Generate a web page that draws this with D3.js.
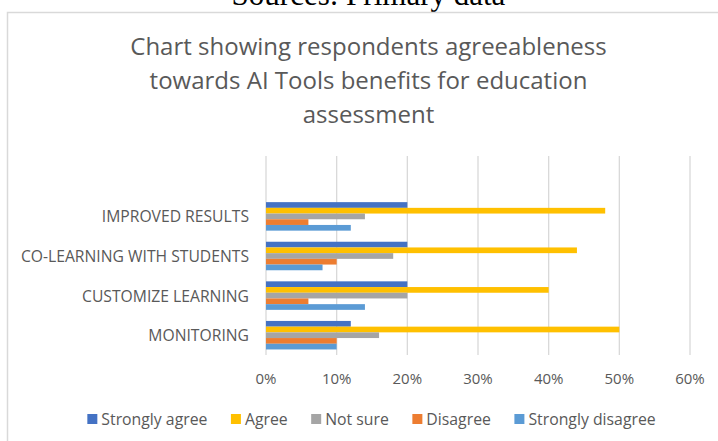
<!DOCTYPE html>
<html>
<head>
<meta charset="utf-8">
<script src="https://cdn.jsdelivr.net/npm/d3@7"></script>
<style>
  body { margin: 0; background: #fff; }
  svg text { font-family: "Open Sans", sans-serif; }
</style>
</head>
<body>
<div id="chart"></div>
<script>
var categories = ["IMPROVED RESULTS", "CO-LEARNING WITH STUDENTS", "CUSTOMIZE LEARNING", "MONITORING"];
var seriesNames = ["Strongly agree", "Agree", "Not sure", "Disagree", "Strongly disagree"];
var seriesColors = ["#4472c4", "#ffc000", "#a5a5a5", "#ed7d31", "#5b9bd5"];
// values per series, in category order, as fractions
var stronglyAgree = [0.20, 0.20, 0.20, 0.12];
var agree = [0.48, 0.44, 0.40, 0.50];
var notSure = [0.14, 0.18, 0.20, 0.16];
var disagree = [0.06, 0.10, 0.06, 0.10];
var stronglyDisagree = [0.12, 0.08, 0.14, 0.10];
var xTicks = [0, 0.1, 0.2, 0.3, 0.4, 0.5, 0.6];
var titleLines = ["Chart showing respondents agreeableness", "towards AI Tools benefits for education", "assessment"];

var seriesValues = [stronglyAgree, agree, notSure, disagree, stronglyDisagree];

var width = 718, height = 441;
var svg = d3.select("#chart").append("svg")
    .attr("width", width)
    .attr("height", height);

// caption, cut off at the top of the image
svg.append("text")
    .attr("x", 368.5).attr("y", 5)
    .attr("text-anchor", "middle")
    .style("font-family", "'Liberation Serif', serif")
    .style("font-size", "31px")
    .attr("fill", "#000")
    .text("Sources: Primary data");

// chart frame
svg.append("rect")
    .attr("x", 7.5).attr("y", 12.5)
    .attr("width", 730).attr("height", 450)
    .attr("fill", "#fff")
    .attr("stroke", "#d9d9d9")
    .attr("stroke-width", 1.5);

// title
svg.append("g").selectAll("text")
  .data(titleLines)
  .enter().append("text")
    .attr("x", 368.5)
    .attr("y", function(d, i) { return 55 + i * 34; })
    .attr("text-anchor", "middle")
    .attr("fill", "#595959")
    .style("font-size", "24px")
    .text(function(d) { return d; });

var x = d3.scaleLinear().domain([0, 0.6]).range([266, 690]);
var y = d3.scaleBand().domain(categories).range([196.6, 355]).paddingInner(0.28).paddingOuter(0.14);
var ySub = d3.scaleBand().domain(seriesNames).range([0, y.bandwidth()]);

// gridlines
svg.append("g").selectAll("line")
  .data(xTicks)
  .enter().append("line")
    .attr("x1", function(d) { return x(d); })
    .attr("x2", function(d) { return x(d); })
    .attr("y1", 156).attr("y2", 355)
    .attr("stroke", "#d9d9d9")
    .attr("stroke-width", 1.3);

// x tick labels
svg.append("g").selectAll("text")
  .data(xTicks)
  .enter().append("text")
    .attr("x", function(d) { return x(d); })
    .attr("y", 384)
    .attr("text-anchor", "middle")
    .attr("fill", "#595959")
    .style("font-size", "15px")
    .text(d3.format(".0%"));

// category labels
svg.append("g").selectAll("text")
  .data(categories)
  .enter().append("text")
    .attr("x", 249)
    .attr("y", function(d) { return y(d) + y.bandwidth() / 2 + 6; })
    .attr("text-anchor", "end")
    .attr("fill", "#595959")
    .style("font-size", "15.7px")
    .text(function(d) { return d; });

// bars
var groups = svg.append("g").selectAll("g")
  .data(categories)
  .enter().append("g")
    .attr("transform", function(d) { return "translate(0," + y(d) + ")"; });

groups.selectAll("rect")
  .data(function(c, ci) {
    return seriesNames.map(function(s, si) { return { series: s, value: seriesValues[si][ci], color: seriesColors[si] }; });
  })
  .enter().append("rect")
    .attr("x", x(0))
    .attr("y", function(d) { return ySub(d.series); })
    .attr("width", function(d) { return x(d.value) - x(0); })
    .attr("height", ySub.bandwidth())
    .attr("fill", function(d) { return d.color; });

// legend
var legend = svg.append("g");
var items = legend.selectAll("g")
  .data(seriesNames)
  .enter().append("g");
items.append("rect")
    .attr("width", 10).attr("height", 10)
    .attr("y", -11)
    .attr("fill", function(d, i) { return seriesColors[i]; });
items.append("text")
    .attr("x", 14).attr("y", 0)
    .attr("fill", "#595959")
    .style("font-size", "15.8px")
    .text(function(d) { return d; });

var pos = 0, offs = [];
items.each(function(d) {
  offs.push(pos);
  pos += this.querySelector("text").getComputedTextLength() + 14 + 23.5;
});
var total = pos - 23.5;
var start = 371.5 - total / 2;
items.attr("transform", function(d, i) { return "translate(" + (start + offs[i]) + ",425)"; });
</script>
</body>
</html>
